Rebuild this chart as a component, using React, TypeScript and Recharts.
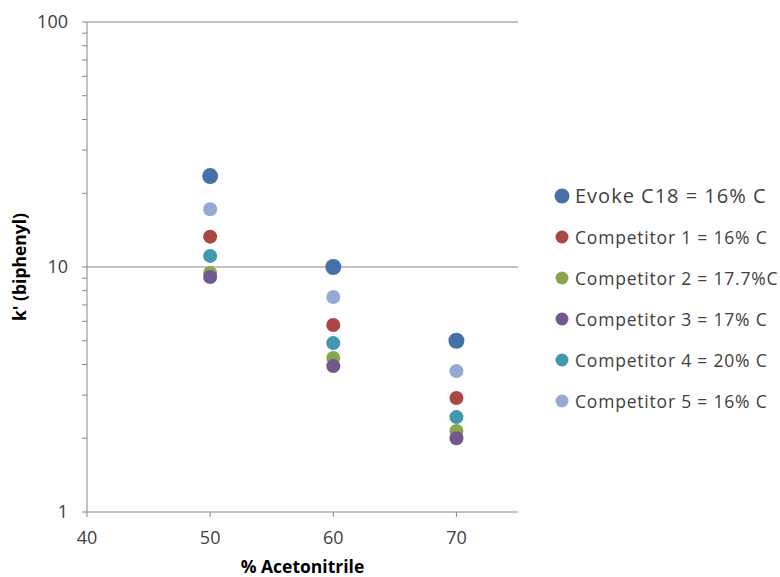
import React from "react";
import { ScatterChart, Scatter, XAxis, YAxis, ReferenceLine } from "recharts";

const acetonitrile = [50, 60, 70];
const evoke = [23.5, 10.0, 5.0];
const comp1 = [13.3, 5.8, 2.92];
const comp2 = [9.45, 4.25, 2.14];
const comp3 = [9.1, 3.94, 2.0];
const comp4 = [11.1, 4.89, 2.44];
const comp5 = [17.2, 7.54, 3.76];

const xTicks = [40, 50, 60, 70];
const yTicks = [1, 2, 3, 4, 5, 6, 7, 8, 9, 10, 20, 30, 40, 50, 60, 70, 80, 90, 100];
const yLabels = [1, 10, 100];

const series = [
  { name: "Evoke C18 = 16% C", values: evoke, color: "#4571A7", r: 8, big: true },
  { name: "Competitor 1 = 16% C", values: comp1, color: "#AA4643", r: 7 },
  { name: "Competitor 2 = 17.7%C", values: comp2, color: "#89A54E", r: 7 },
  { name: "Competitor 3 = 17% C", values: comp3, color: "#71588F", r: 7 },
  { name: "Competitor 4 = 20% C", values: comp4, color: "#4198AF", r: 7 },
  { name: "Competitor 5 = 16% C", values: comp5, color: "#95AAD3", r: 7 },
];

const FONT = "'Open Sans', 'Noto Sans', sans-serif";
const TEXT = "#404040";
const AXIS = "#868686";

const YTick = (props: any) => {
  const { x, y, payload } = props;
  if (!yLabels.includes(payload.value)) return null;
  return (
    <text x={x} y={y} dy={6} textAnchor="end" fontSize={18} fill={TEXT} fontFamily={FONT}>
      {payload.value}
    </text>
  );
};

const XTick = (props: any) => {
  const { x, y, payload } = props;
  return (
    <text x={x} y={y} dy={25} textAnchor="middle" fontSize={18} fill={TEXT} fontFamily={FONT}>
      {payload.value}
    </text>
  );
};

const LegendBox = () => (
  <div style={{ position: "absolute", left: 553, top: 175, fontFamily: FONT, color: TEXT }}>
    {series.map((s) => (
      <div
        key={s.name}
        style={{ display: "flex", alignItems: "center", height: 41, whiteSpace: "nowrap" }}
      >
        <svg width={18} height={18} style={{ marginRight: 4 }}>
          <circle cx={9} cy={9} r={s.big ? 7.5 : 6.5} fill={s.color} />
        </svg>
        <span style={{ fontSize: s.big ? 20 : 17.5, letterSpacing: s.big ? 1 : 0.8 }}>{s.name}</span>
      </div>
    ))}
  </div>
);

export default function App() {
  return (
    <div style={{ position: "absolute", left: 0, top: 0, width: 780, height: 577, background: "#fff" }}>
      <ScatterChart width={780} height={577} margin={{ top: 22, right: 262, bottom: 35, left: 0 }}>
        <XAxis
          type="number"
          dataKey="x"
          domain={[40, 75]}
          ticks={xTicks}
          allowDataOverflow
          stroke={AXIS}
          tickSize={5}
          height={30}
          tick={<XTick />}
          label={{
            value: "% Acetonitrile",
            position: "bottom",
            offset: 19,
            style: { fontFamily: FONT, fontWeight: 700, fontSize: 17.5, fill: "#000" },
          }}
        />
        <YAxis
          type="number"
          dataKey="y"
          scale="log"
          domain={[1, 100]}
          ticks={yTicks}
          allowDataOverflow
          width={87}
          stroke={AXIS}
          tickSize={5}
          tickMargin={14}
          interval={0}
          tick={<YTick />}
          label={{
            value: "k' (biphenyl)",
            angle: -90,
            position: "insideLeft",
            offset: 20,
            style: { textAnchor: "middle", fontFamily: FONT, fontWeight: 700, fontSize: 17.5, fill: "#000" },
          }}
        />
        <ReferenceLine y={10} stroke={AXIS} strokeWidth={1} />
        <ReferenceLine y={100} stroke={AXIS} strokeWidth={1} />
        {series.map((s) => (
          <Scatter
            key={s.name}
            name={s.name}
            data={acetonitrile.map((x, i) => ({ x, y: s.values[i] }))}
            fill={s.color}
            isAnimationActive={false}
            shape={(p: any) => <circle cx={p.cx} cy={p.cy} r={s.r} fill={s.color} />}
          />
        ))}
      </ScatterChart>
      <LegendBox />
    </div>
  );
}
